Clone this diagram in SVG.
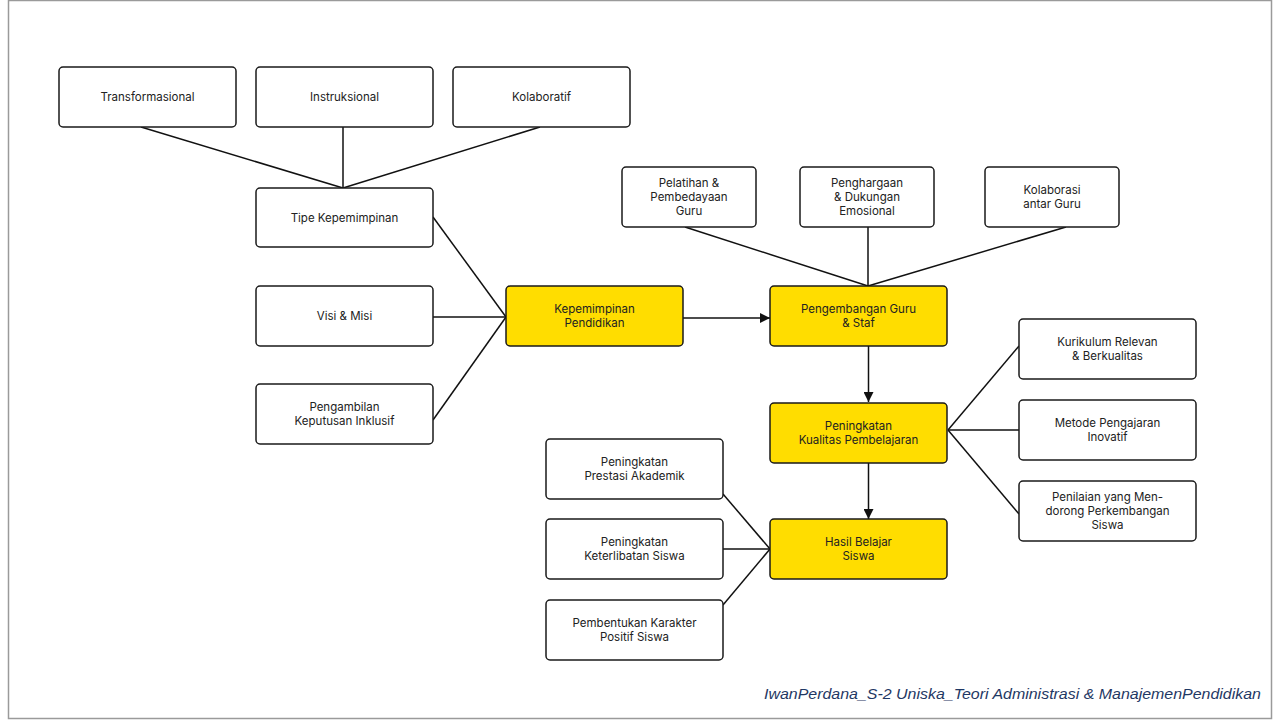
<svg xmlns="http://www.w3.org/2000/svg" width="1280" height="720" viewBox="0 0 1280 720">
<defs>
<style>
.frame{fill:#fff;stroke:#9a9a9a;stroke-width:1.5}
.box{fill:#fff;stroke:#1a1a1a;stroke-width:1.5}
.hl{fill:#FFDD00;stroke:#1a1a1a;stroke-width:1.5}
.t{font-family:Inter,"Liberation Sans",sans-serif;font-size:11.5px;fill:#222;text-anchor:middle}
.c{stroke:#111;stroke-width:1.5;fill:none}
.foot{font-family:"Liberation Sans",sans-serif;font-style:italic;font-size:15px;fill:#1f3864}
</style>
<marker id="arr" viewBox="0 0 10 10" refX="10" refY="5" markerWidth="10" markerHeight="10" markerUnits="userSpaceOnUse" orient="auto">
<path d="M0,0 L10,5 L0,10 Z" fill="#111"/>
</marker>
</defs>
<rect x="0" y="0" width="1280" height="720" fill="#fff"/>
<rect class="frame" x="8.5" y="0.5" width="1263" height="718"/>

<g id="connectors">
<line class="c" x1="141" y1="127" x2="343" y2="188"/>
<line class="c" x1="343" y1="127" x2="343" y2="188"/>
<line class="c" x1="540" y1="127" x2="343" y2="188"/>
<line class="c" x1="433" y1="217" x2="506" y2="317"/>
<line class="c" x1="433" y1="317" x2="506" y2="317"/>
<line class="c" x1="433" y1="420" x2="506" y2="317"/>
<line class="c" x1="683" y1="318" x2="770" y2="318" marker-end="url(#arr)"/>
<line class="c" x1="685" y1="227" x2="868" y2="286"/>
<line class="c" x1="868" y1="227" x2="868" y2="286"/>
<line class="c" x1="1066" y1="227" x2="868" y2="286"/>
<line class="c" x1="868.5" y1="346" x2="868.5" y2="402" marker-end="url(#arr)"/>
<line class="c" x1="868.5" y1="463" x2="868.5" y2="519" marker-end="url(#arr)"/>
<line class="c" x1="948" y1="430" x2="1019" y2="346"/>
<line class="c" x1="948" y1="430" x2="1019" y2="430"/>
<line class="c" x1="948" y1="430" x2="1019" y2="514"/>
<line class="c" x1="723" y1="494" x2="770" y2="549"/>
<line class="c" x1="723" y1="549" x2="770" y2="549"/>
<line class="c" x1="723" y1="605" x2="770" y2="549"/>
</g>

<g id="transformasional"><rect class="box" x="59" y="67" width="177" height="60" rx="4"/><text class="t" x="147.5" y="101">Transformasional</text></g>
<g id="instruksional"><rect class="box" x="256" y="67" width="177" height="60" rx="4"/><text class="t" x="344.5" y="101">Instruksional</text></g>
<g id="kolaboratif"><rect class="box" x="453" y="67" width="177" height="60" rx="4"/><text class="t" x="541.5" y="101">Kolaboratif</text></g>
<g id="tipe"><rect class="box" x="256" y="188" width="177" height="59" rx="4"/><text class="t" x="344.5" y="222">Tipe Kepemimpinan</text></g>
<g id="visi"><rect class="box" x="256" y="286" width="177" height="60" rx="4"/><text class="t" x="344.5" y="320">Visi &amp; Misi</text></g>
<g id="pengambilan"><rect class="box" x="256" y="384" width="177" height="60" rx="4"/><text class="t" x="344.5" y="411">Pengambilan</text><text class="t" x="344.5" y="425">Keputusan Inklusif</text></g>
<g id="kepemimpinan"><rect class="hl" x="506" y="286" width="177" height="60" rx="4"/><text class="t" x="594.5" y="313">Kepemimpinan</text><text class="t" x="594.5" y="327">Pendidikan</text></g>
<g id="pengembangan"><rect class="hl" x="770" y="286" width="177" height="60" rx="4"/><text class="t" x="858.5" y="313">Pengembangan Guru</text><text class="t" x="858.5" y="327">&amp; Staf</text></g>
<g id="pelatihan"><rect class="box" x="622" y="167" width="134" height="60" rx="4"/><text class="t" x="689" y="187">Pelatihan &amp;</text><text class="t" x="689" y="201">Pembedayaan</text><text class="t" x="689" y="215">Guru</text></g>
<g id="penghargaan"><rect class="box" x="800" y="167" width="134" height="60" rx="4"/><text class="t" x="867" y="187">Penghargaan</text><text class="t" x="867" y="201">&amp; Dukungan</text><text class="t" x="867" y="215">Emosional</text></g>
<g id="kolaborasi"><rect class="box" x="985" y="167" width="134" height="60" rx="4"/><text class="t" x="1052" y="194">Kolaborasi</text><text class="t" x="1052" y="208">antar Guru</text></g>
<g id="kurikulum"><rect class="box" x="1019" y="319" width="177" height="60" rx="4"/><text class="t" x="1107.5" y="346">Kurikulum Relevan</text><text class="t" x="1107.5" y="360">&amp; Berkualitas</text></g>
<g id="metode"><rect class="box" x="1019" y="400" width="177" height="60" rx="4"/><text class="t" x="1107.5" y="427">Metode Pengajaran</text><text class="t" x="1107.5" y="441">Inovatif</text></g>
<g id="penilaian"><rect class="box" x="1019" y="481" width="177" height="60" rx="4"/><text class="t" x="1107.5" y="501">Penilaian yang Men-</text><text class="t" x="1107.5" y="515">dorong Perkembangan</text><text class="t" x="1107.5" y="529">Siswa</text></g>
<g id="kualitas"><rect class="hl" x="770" y="403" width="177" height="60" rx="4"/><text class="t" x="858.5" y="430">Peningkatan</text><text class="t" x="858.5" y="444">Kualitas Pembelajaran</text></g>
<g id="hasil"><rect class="hl" x="770" y="519" width="177" height="60" rx="4"/><text class="t" x="858.5" y="546">Hasil Belajar</text><text class="t" x="858.5" y="560">Siswa</text></g>
<g id="prestasi"><rect class="box" x="546" y="439" width="177" height="60" rx="4"/><text class="t" x="634.5" y="466">Peningkatan</text><text class="t" x="634.5" y="480">Prestasi Akademik</text></g>
<g id="keterlibatan"><rect class="box" x="546" y="519" width="177" height="60" rx="4"/><text class="t" x="634.5" y="546">Peningkatan</text><text class="t" x="634.5" y="560">Keterlibatan Siswa</text></g>
<g id="pembentukan"><rect class="box" x="546" y="600" width="177" height="60" rx="4"/><text class="t" x="634.5" y="627">Pembentukan Karakter</text><text class="t" x="634.5" y="641">Positif Siswa</text></g>

<text class="foot" x="764" y="699" textLength="497" lengthAdjust="spacingAndGlyphs">IwanPerdana_S-2 Uniska_Teori Administrasi &amp; ManajemenPendidikan</text>
</svg>
